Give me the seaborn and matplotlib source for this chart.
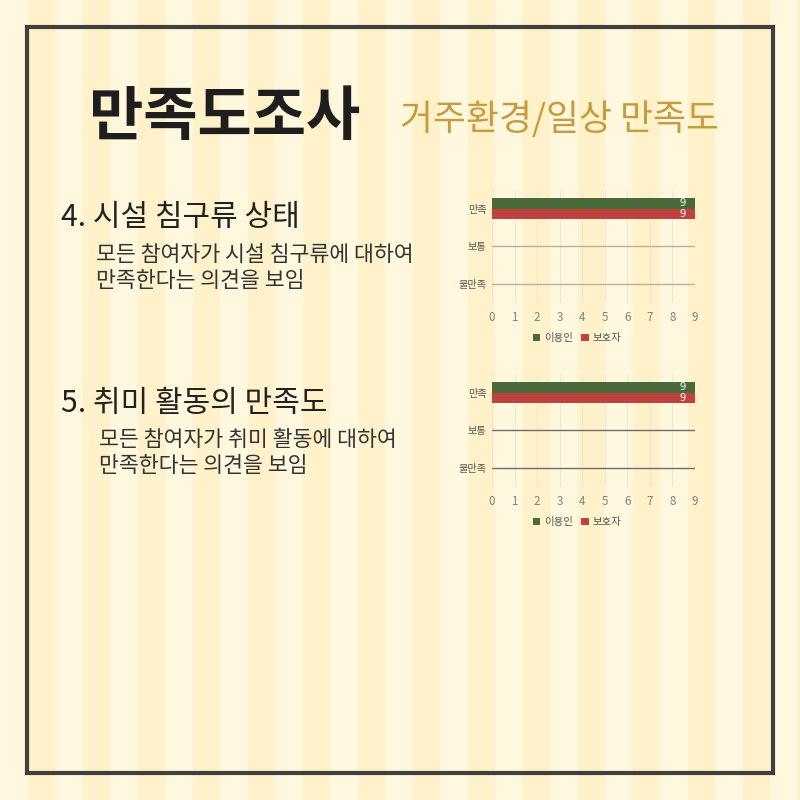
import numpy as np
import pandas as pd
import matplotlib
matplotlib.use("Agg")
import matplotlib.pyplot as plt
from matplotlib.patches import Rectangle
import seaborn as sns

# Datos
categorias = ['만족', '보통', '불만족']
grupos = ['이용인', '보호자']
sec4_usuarios = [9, 0, 0]
sec4_tutores = [9, 0, 0]
sec5_usuarios = [9, 0, 0]
sec5_tutores = [9, 0, 0]
ticks_x = list(range(0, 10))

titulo = '만족도조사'
subtitulo = '거주환경/일상 만족도'
sec4_titulo = '4. 시설 침구류 상태'
sec4_texto = ['모든 참여자가 시설 침구류에 대하여', '만족한다는 의견을 보임']
sec5_titulo = '5. 취미 활동의 만족도'
sec5_texto = ['모든 참여자가 취미 활동에 대하여', '만족한다는 의견을 보임']

sns.set_theme(style="white")
plt.rcParams['font.family'] = ['Noto Sans CJK KR', 'DejaVu Sans']

colores = {'이용인': '#4a6a3c', '보호자': '#c0423f'}

fig = plt.figure(figsize=(8, 8), dpi=100)
fig.patch.set_facecolor('#fff7de')

# Fondo a rayas
bg = fig.add_axes([0, 0, 1, 1], zorder=-5)
bg.set_xlim(0, 800)
bg.set_ylim(800, 0)
bg.axis('off')
for x0 in np.arange(27.5, 800, 55):
    bg.axvspan(x0, x0 + 27.5, color='#fff2ca', lw=0)
bg.add_patch(Rectangle((27, 27), 746, 746, fill=False, ec='#404040', lw=3))

# Textos
fig.text(89 / 800, 1 - 118 / 800, titulo, fontsize=42.5, weight='bold', color='#1e1e1e', va='center')
fig.text(400 / 800, 1 - 120 / 800, subtitulo, fontsize=25.8, color='#c89b3c', va='center')


def seccion(y_tit, x_txt, y_txt, tit, lineas):
    fig.text(61 / 800, 1 - y_tit / 800, tit, fontsize=21.6, color='#222222', va='center')
    for i, linea in enumerate(lineas):
        fig.text(x_txt / 800, 1 - (y_txt + 26 * i) / 800, linea, fontsize=15.6,
                 color='#333333', va='center')


seccion(218, 96, 255, sec4_titulo, sec4_texto)
seccion(403, 99, 440, sec5_titulo, sec5_texto)


def grafico(y_top, usuarios, tutores, color_linea):
    df = pd.DataFrame({
        'categoria': categorias * 2,
        'grupo': [grupos[0]] * 3 + [grupos[1]] * 3,
        'valor': usuarios + tutores,
    })
    ax = fig.add_axes([492 / 800, 1 - (y_top + 112.5) / 800, 203 / 800, 112.5 / 800])
    ax.set_facecolor('none')
    sns.barplot(data=df, y='categoria', x='valor', hue='grupo', hue_order=grupos,
                order=categorias, palette=colores, width=0.56, orient='h', ax=ax,
                saturation=1, linewidth=0, zorder=3)
    for cont in ax.containers:
        etiquetas = [str(int(v)) if v > 0 else '' for v in cont.datavalues]
        ax.bar_label(cont, labels=etiquetas, padding=-11, color='white', fontsize=8)
    ax.set_xlim(0, 9)
    ax.set_xticks(ticks_x)
    ax.set_ylim(2.5, -0.5)
    ax.set_xlabel('')
    ax.set_ylabel('')
    for s in ax.spines.values():
        s.set_visible(False)
    ax.tick_params(axis='both', length=0)
    ax.tick_params(axis='x', labelsize=8.3, labelcolor='#808080', pad=6)
    ax.tick_params(axis='y', labelsize=7.3, labelcolor='#555555', pad=4)
    ax.xaxis.grid(True, color='#efe7d2', lw=0.8, zorder=0)
    ax.yaxis.grid(True, color=color_linea, lw=1.0, zorder=1)
    sns.move_legend(ax, 'center', bbox_to_anchor=(0.42, -0.316), ncol=2, frameon=False,
                    title=None, fontsize=7.5, handlelength=0.7, handleheight=0.7,
                    handletextpad=0.4, columnspacing=0.8, labelcolor='#555555')
    return ax


grafico(190, sec4_usuarios, sec4_tutores, '#bab29e')
grafico(374, sec5_usuarios, sec5_tutores, '#6e6e6e')

fig.savefig('out.png', dpi=100)
